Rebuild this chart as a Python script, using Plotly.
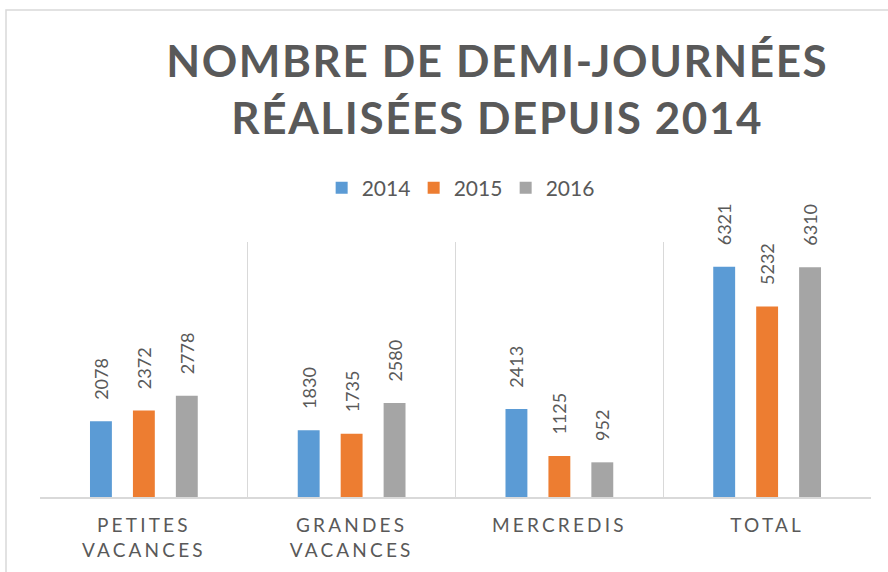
import plotly.graph_objects as go

categories = ["PETITES<br>VACANCES", "GRANDES<br>VACANCES", "MERCREDIS", "TOTAL"]
years = ["2014", "2015", "2016"]
values_2014 = [2078, 1830, 2413, 6321]
values_2015 = [2372, 1735, 1125, 5232]
values_2016 = [2778, 2580, 952, 6310]
colors = ["#5B9BD5", "#ED7D31", "#A5A5A5"]

W, H = 888, 572
ML, MR, MT, MB = 40, 17, 242, 75
TXT = "#595959"
GRID = "#D9D9D9"
PAD = "\u00a0" * 4  # gap between bar top and its value label

fig = go.Figure()
for name, vals, col in zip(years, [values_2014, values_2015, values_2016], colors):
    fig.add_trace(go.Bar(
        x=categories, y=vals, name=name,
        marker=dict(color=col, line=dict(width=0)),
        text=[PAD + str(v) for v in vals], textposition="outside", textangle=-90,
        textfont=dict(family="Lato", size=18, color=TXT),
        constraintext="none", cliponaxis=False,
    ))

# outer chart border (decoration), converted from pixels to paper coords
pw, ph = W - ML - MR, H - MT - MB
def px_x(p):
    return (p - ML) / pw
def px_y(p):
    return (H - MB - p) / ph

fig.add_shape(type="rect", xref="paper", yref="paper",
              x0=px_x(6), x1=px_x(W + 5), y0=px_y(H + 5), y1=px_y(10),
              line=dict(color=GRID, width=1.5), fillcolor="rgba(0,0,0,0)", layer="below")

fig.update_layout(
    width=W, height=H, autosize=False,
    margin=dict(l=ML, r=MR, t=MT, b=MB),
    paper_bgcolor="white", plot_bgcolor="white",
    barmode="group", bargap=0.38, bargroupgap=0.49,
    title=dict(text="NOMBRE DE DEMI-JOURNÉES<br>RÉALISÉES DEPUIS 2014",
               x=0.56, xanchor="center", xref="container",
               y=1 - 77 / H, yanchor="top", yref="container",
               font=dict(family="Lato", size=44, color=TXT, weight="bold")),
    legend=dict(orientation="h", x=0.505, xanchor="center", y=px_y(188), yanchor="middle",
                font=dict(family="Lato", size=21, color=TXT),
                entrywidth=47, entrywidthmode="pixels", itemclick=False),
    font=dict(family="Lato", color=TXT),
)
fig.update_xaxes(
    showline=True, linecolor=GRID, linewidth=2,
    tickson="boundaries", showgrid=True, gridcolor=GRID, gridwidth=1,
    ticks="", tickfont=dict(family="Lato", size=19, color=TXT), ticklabelstandoff=10,
    range=[-0.5, len(categories) - 0.5],
)
fig.update_yaxes(visible=False, range=[0, 7000], showgrid=False, zeroline=False)

post = """
document.body.style.margin='0';
var gd = document.getElementById('{plot_id}');
function ls(){
  gd.querySelectorAll('.xtick text').forEach(function(t){t.style.letterSpacing='3.2px';});
  gd.querySelectorAll('.gtitle').forEach(function(t){t.style.letterSpacing='1.6px';});
}
ls();
gd.on('plotly_afterplot', ls);
"""
fig.write_html("out.html", post_script=post, config={"displayModeBar": False})
